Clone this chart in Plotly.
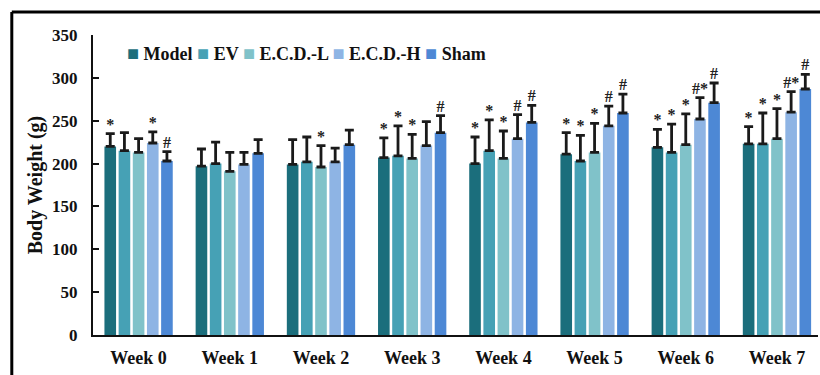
import plotly.graph_objects as go

weeks = ["Week 0", "Week 1", "Week 2", "Week 3", "Week 4", "Week 5", "Week 6", "Week 7"]
series_names = ["Model", "EV", "E.C.D.-L", "E.C.D.-H", "Sham"]

model = [220, 197, 199, 207, 200, 211, 219, 223]
model_err = [15, 20, 29, 23, 31, 25, 21, 20]
ev = [215, 200, 202, 209, 215, 203, 213, 223]
ev_err = [21, 25, 29, 35, 36, 30, 33, 36]
ecdl = [213, 191, 196, 206, 206, 213, 222, 229]
ecdl_err = [16, 22, 25, 28, 32, 34, 36, 35]
ecdh = [224, 199, 202, 221, 229, 244, 252, 260]
ecdh_err = [13, 14, 16, 28, 28, 23, 25, 24]
sham = [203, 212, 222, 236, 248, 259, 271, 287]
sham_err = [11, 16, 17, 20, 20, 22, 23, 17]

model_sig = ["*", "", "", "*", "*", "*", "*", "*"]
ev_sig = ["", "", "", "*", "*", "*", "*", "*"]
ecdl_sig = ["", "", "*", "*", "*", "*", "*", "*"]
ecdh_sig = ["*", "", "", "", "#", "#", "#*", "#*"]
sham_sig = ["#", "", "", "#", "#", "#", "#", "#"]

colors = ["#1b6e7c", "#46a1b5", "#80c2c9", "#8eb4e4", "#4d88d5"]

values = [model, ev, ecdl, ecdh, sham]
errors = [model_err, ev_err, ecdl_err, ecdh_err, sham_err]
sigs = [model_sig, ev_sig, ecdl_sig, ecdh_sig, sham_sig]

FONT = "Liberation Serif"
INK = "#222222"

fig = go.Figure()
for name, vals, errs, col in zip(series_names, values, errors, colors):
    fig.add_trace(go.Bar(
        x=weeks, y=vals, name=name,
        marker=dict(color=col, line=dict(color="white", width=0)),
        error_y=dict(type="data", array=errs, arrayminus=[0] * len(errs),
                     symmetric=False, color="#1a1a1a", thickness=2.8, width=4.5),
        showlegend=False,
    ))

for name, vals, errs, sig in zip(series_names, values, errors, sigs):
    fig.add_trace(go.Scatter(
        x=weeks, y=[v + e for v, e in zip(vals, errs)], text=sig,
        mode="text", textposition="top center",
        textfont=dict(family=FONT, size=16, color=INK, weight="bold"),
        cliponaxis=False, showlegend=False, hoverinfo="skip",
    ))

legend_text = " ".join(
    f"<span style='color:{c};font-size:20px'>■</span> {n}" for n, c in zip(series_names, colors)
)
fig.add_annotation(
    text=f"<b>{legend_text}</b>", xref="paper", yref="paper",
    x=0.044, y=0.94, xanchor="left", yanchor="middle", showarrow=False,
    font=dict(family=FONT, size=18, color="#111111"),
)

# outer frame of the figure
fig.add_shape(type="line", xref="paper", yref="paper",
              x0=-0.112, x1=1.2, y0=1.077, y1=1.077,
              line=dict(color="black", width=3))
fig.add_shape(type="line", xref="paper", yref="paper",
              x0=-0.112, x1=-0.112, y0=-0.3, y1=1.077,
              line=dict(color="black", width=3))

fig.update_layout(
    width=820, height=375,
    margin=dict(l=93, r=2, t=35, b=40),
    paper_bgcolor="white", plot_bgcolor="white",
    barmode="group", bargap=0.223, bargroupgap=0.18,
    scattermode="group", scattergap=0.223,
    font=dict(family=FONT, color="#111111"),
    xaxis=dict(
        range=[-0.5, 7.45], showline=True, linecolor="#111111", linewidth=2,
        ticks="", tickfont=dict(family=FONT, size=18, weight="bold"),
        ticklabelstandoff=5, showgrid=False, zeroline=False,
    ),
    yaxis=dict(
        range=[0, 350], dtick=50, showline=True, linecolor="#111111", linewidth=2,
        ticks="inside", ticklen=6, tickwidth=2, tickcolor="#111111",
        tickfont=dict(family=FONT, size=17, weight="bold"),
        ticklabelstandoff=10, showgrid=False, zeroline=False,
        title=dict(text="<b>Body Weight (g)</b>", font=dict(family=FONT, size=20),
                   standoff=4),
    ),
)

fig.write_html("out.html", config={"displayModeBar": False})

with open("out.html", encoding="utf-8") as f:
    html = f.read()
html = html.replace("<body>", "<body style=\"margin:0;padding:0\">", 1)
with open("out.html", "w", encoding="utf-8") as f:
    f.write(html)
